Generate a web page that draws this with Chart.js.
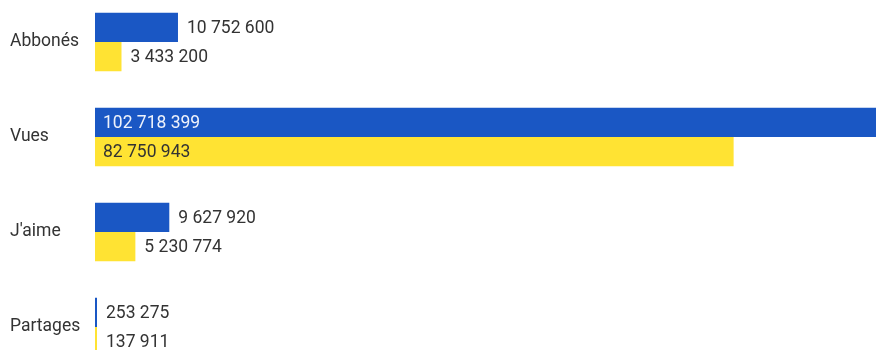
<!DOCTYPE html>
<html>
<head>
<meta charset="utf-8">
<script src="https://cdn.jsdelivr.net/npm/chart.js@4.4.1/dist/chart.umd.min.js"></script>
<style>
  html, body { margin: 0; padding: 0; background: #fff; overflow: hidden; width: 876px; height: 350px; }
  #wrap { position: absolute; left: 0; top: -16px; width: 876px; height: 401px; }
</style>
</head>
<body>
<div id="wrap"><canvas id="graphique"></canvas></div>
<script>
// Données
const categories = ["Abbonés", "Vues", "J'aime", "Partages"];
const serieBleue = [10752600, 102718399, 9627920, 253275];
const serieJaune = [3433200, 82750943, 5230774, 137911];
const axeMax = 101200000;

const bleu = '#1a57c4';
const jaune = '#ffe333';
const police = 'Roboto, "Noto Sans", sans-serif';
const taille = 17.5;

// format 10 752 600
function formatNombre(v) {
  return String(v).replace(/\B(?=(\d{3})+(?!\d))/g, ' ');
}

// étiquettes de valeur : dans la barre si elle est assez large, sinon après
const etiquettes = {
  id: 'etiquettes',
  afterDatasetsDraw(chart) {
    const ctx = chart.ctx;
    ctx.save();
    ctx.font = taille + 'px ' + police;
    ctx.textBaseline = 'middle';
    chart.data.datasets.forEach((ds, i) => {
      const meta = chart.getDatasetMeta(i);
      meta.data.forEach((bar, j) => {
        const txt = formatNombre(ds.data[j]);
        const w = ctx.measureText(txt).width;
        const largeur = bar.x - bar.base;
        if (largeur > w + 16) {
          ctx.fillStyle = i === 0 ? '#eef2fb' : '#333333';
          ctx.fillText(txt, bar.base + 8, bar.y + 1);
        } else {
          ctx.fillStyle = '#333333';
          ctx.fillText(txt, bar.x + 9, bar.y + 1);
        }
      });
    });
    ctx.restore();
  }
};

const ctx = document.getElementById('graphique').getContext('2d');
const graphique = new Chart(ctx, {
  type: 'bar',
  data: {
    labels: categories,
    datasets: [
      { label: 'Bleu', data: serieBleue, backgroundColor: bleu, borderWidth: 0, minBarLength: 2 },
      { label: 'Jaune', data: serieJaune, backgroundColor: jaune, borderWidth: 0, minBarLength: 2 }
    ]
  },
  options: {
    indexAxis: 'y',
    responsive: true,
    maintainAspectRatio: false,
    animation: false,
    categoryPercentage: 0.615,
    barPercentage: 1,
    layout: { padding: { left: 10, right: 0, top: 0, bottom: 0 } },
    plugins: {
      legend: { display: false },
      tooltip: { enabled: false }
    },
    scales: {
      x: {
        display: false,
        min: 0,
        max: axeMax
      },
      y: {
        grid: { display: false, drawTicks: false },
        border: { display: false },
        ticks: {
          crossAlign: 'far',
          color: '#333333',
          font: { family: police, size: taille },
          padding: 0
        },
        afterFit(axis) { axis.width = 85; }
      }
    }
  },
  plugins: [etiquettes]
});
</script>
</body>
</html>
